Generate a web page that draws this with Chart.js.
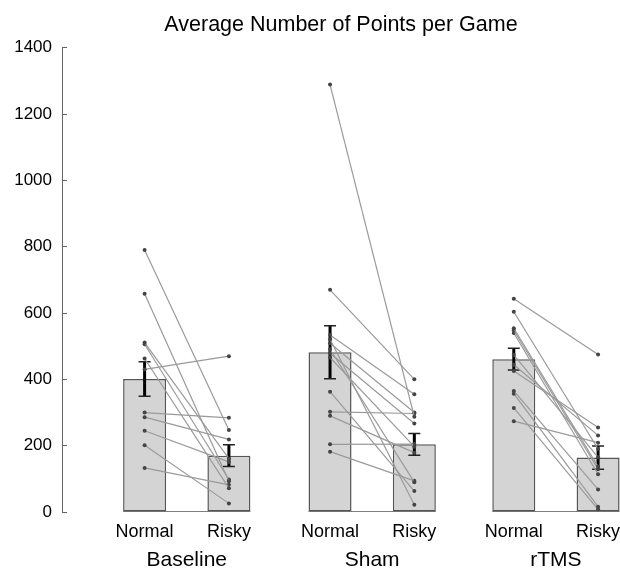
<!DOCTYPE html>
<html>
<head>
<meta charset="utf-8">
<script src="https://cdn.jsdelivr.net/npm/chart.js@4"></script>
<style>
  html, body { margin: 0; padding: 0; background: #fff; }
</style>
</head>
<body>
<canvas id="chart" width="620" height="569"></canvas>
<script>
const titleText  = 'Average Number of Points per Game';
const conditions = ['Baseline', 'Sham', 'rTMS'];
const trialTypes = ['Normal', 'Risky'];
const barPos     = [1, 2, 3.2, 4.2, 5.38, 6.38];
const groupPos   = [1.5, 3.7, 5.88];
const barMeans   = [401, 170, 482, 204, 461, 164];
const barErrors  = [52, 33, 80, 33, 33, 35];
const yTicks     = [0, 200, 400, 600, 800, 1000, 1200, 1400];

// per-subject scores, Normal[i] pairs with Risky[i]
const baselineNormal = [790, 658, 511, 506, 463, 430, 300, 286, 245, 201, 133];
const baselineRisky  = [247,  93, 161,  98,  72, 470, 284, 219, 151,  26,  82];
const shamNormal = [1289, 670, 534, 521, 509, 491, 479, 466, 363, 302, 290, 204, 182];
const shamRisky  = [ 287, 400, 355,  22, 300,  90, 267, 197,  63, 297, 179, 205,  94];
const rtmsNormal = [643, 604, 554, 548, 540, 474, 444, 425, 365, 357, 314, 274];
const rtmsRisky  = [475, 190, 137, 129, 114, 165, 231, 255,  68,  16,   8, 209];

const subjects = [[baselineNormal, baselineRisky], [shamNormal, shamRisky], [rtmsNormal, rtmsRisky]];

const barFrac = 0.51;           // bar width as a fraction of one x unit
const barHalf = barFrac / 2;

Chart.defaults.font.family = '"Liberation Sans", Arial, sans-serif';
Chart.defaults.color = '#000';

const datasets = [];

datasets.push({
  type: 'bar',
  data: barPos.map((x, i) => ({ x, y: barMeans[i] })),
  backgroundColor: '#d4d4d4',
  borderColor: '#555',
  borderWidth: 1.5,
  borderSkipped: false,
  barPercentage: barFrac,
  categoryPercentage: 1,
  order: 4
});

// baseline segment under each pair of bars
conditions.forEach((c, g) => {
  datasets.push({
    type: 'line',
    data: [{ x: barPos[2 * g] - barHalf, y: 0 }, { x: barPos[2 * g + 1] + barHalf, y: 0 }],
    borderColor: '#555', borderWidth: 1.5, pointRadius: 0, order: 3
  });
});

// error bars
barPos.forEach((x, i) => {
  datasets.push({
    type: 'line',
    data: [{ x, y: barMeans[i] - barErrors[i] }, { x, y: barMeans[i] + barErrors[i] }],
    borderColor: '#000', borderWidth: 3,
    pointStyle: 'line', pointRadius: 6, pointBorderWidth: 1.5, pointBorderColor: '#222',
    order: 2
  });
});

// individual subjects
subjects.forEach(([normal, risky], g) => {
  normal.forEach((v, j) => {
    datasets.push({
      type: 'line',
      data: [{ x: barPos[2 * g], y: v }, { x: barPos[2 * g + 1], y: risky[j] }],
      borderColor: '#9a9a9a', borderWidth: 1.2,
      pointRadius: 2, pointBackgroundColor: '#444', pointBorderWidth: 0,
      order: 1
    });
  });
});

const xRange = { min: 0.02, max: 6.64 };

new Chart(document.getElementById('chart'), {
  type: 'bar',
  data: { datasets },
  options: {
    responsive: false,
    animation: false,
    layout: { autoPadding: false, padding: { top: 0, right: 0, bottom: 0, left: 0 } },
    plugins: {
      legend: { display: false },
      tooltip: { enabled: false },
      title: {
        display: true, text: titleText, fullSize: false,
        font: { size: 21.5, weight: 'normal' }, color: '#000',
        padding: { top: 12, bottom: 10 }
      }
    },
    scales: {
      x: {
        type: 'linear', position: 'bottom', offset: false, ...xRange,
        grid: { display: false, drawTicks: false },
        border: { display: false },
        afterBuildTicks: s => { s.ticks = barPos.map(v => ({ value: v })); },
        afterFit: s => { s.height = 36; s.paddingLeft = 0; s.paddingRight = 0; },
        ticks: {
          autoSkip: false, maxRotation: 0, padding: 9, font: { size: 18 }, color: '#000',
          callback: (v, i) => trialTypes[i % 2]
        }
      },
      x2: {
        type: 'linear', position: 'bottom', offset: false, ...xRange,
        grid: { display: false, drawTicks: false },
        border: { display: false },
        afterBuildTicks: s => { s.ticks = groupPos.map(v => ({ value: v })); },
        afterFit: s => { s.height = 21; s.paddingLeft = 0; s.paddingRight = 0; },
        ticks: {
          autoSkip: false, maxRotation: 0, padding: 0, font: { size: 21 }, color: '#000',
          callback: (v, i) => conditions[i]
        }
      },
      y: {
        type: 'linear', min: 0, max: 1400,
        afterBuildTicks: s => { s.ticks = yTicks.map(v => ({ value: v })); },
        afterFit: s => { s.width = 62; },
        grid: { display: true, drawOnChartArea: false, drawTicks: true, tickLength: -5, color: '#666' },
        border: { display: true, color: '#666', width: 1 },
        ticks: { padding: 15, font: { size: 17 }, color: '#000', callback: v => String(v) }
      }
    }
  }
});
</script>
</body>
</html>
